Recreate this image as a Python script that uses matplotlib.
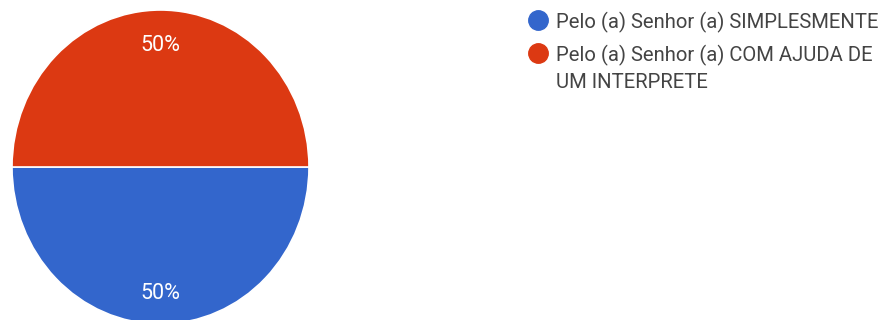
import matplotlib.pyplot as plt

plt.rcParams['font.family'] = ['Roboto', 'DejaVu Sans']

labels = ['Pelo (a) Senhor (a) SIMPLESMENTE',
          'Pelo (a) Senhor (a) COM AJUDA DE\nUM INTERPRETE']
shares = [50, 50]
colors = ['#3366CC', '#DC3912']

W, H = 891, 320
fig = plt.figure(figsize=(W / 100, H / 100), dpi=100)

# pie axes, slightly taller than wide
cx, cy, rx, ry = 160.5, 167, 148.5, 157
ax = fig.add_axes([(cx - rx) / W, (H - cy - ry) / H, 2 * rx / W, 2 * ry / H])
wedges, _, autotexts = ax.pie(
    shares, colors=colors, startangle=180, counterclock=True,
    autopct='%1.0f%%', pctdistance=0.79,
    wedgeprops=dict(edgecolor='white', linewidth=1.2),
    textprops=dict(color='white', fontsize=15.5))
for t in autotexts:
    t.set_va('center_baseline')
ax.set_aspect('auto')
ax.set_xlim(-1, 1)
ax.set_ylim(-1, 1)
ax.axis('off')

# legend drawn by hand in pixel coordinates so the dot sits on the first line
lax = fig.add_axes([0, 0, 1, 1])
lax.set_xlim(0, W)
lax.set_ylim(H, 0)
lax.axis('off')
y = 20
for lab, col in zip(labels, colors):
    lax.plot(538, y, marker='o', markersize=14, color=col, linestyle='none')
    for line in lab.split('\n'):
        lax.text(556, y, line, fontsize=14.6, color='#444444',
                 va='center_baseline', ha='left')
        y += 27
    y += 6

fig.savefig('out.png', dpi=100)
